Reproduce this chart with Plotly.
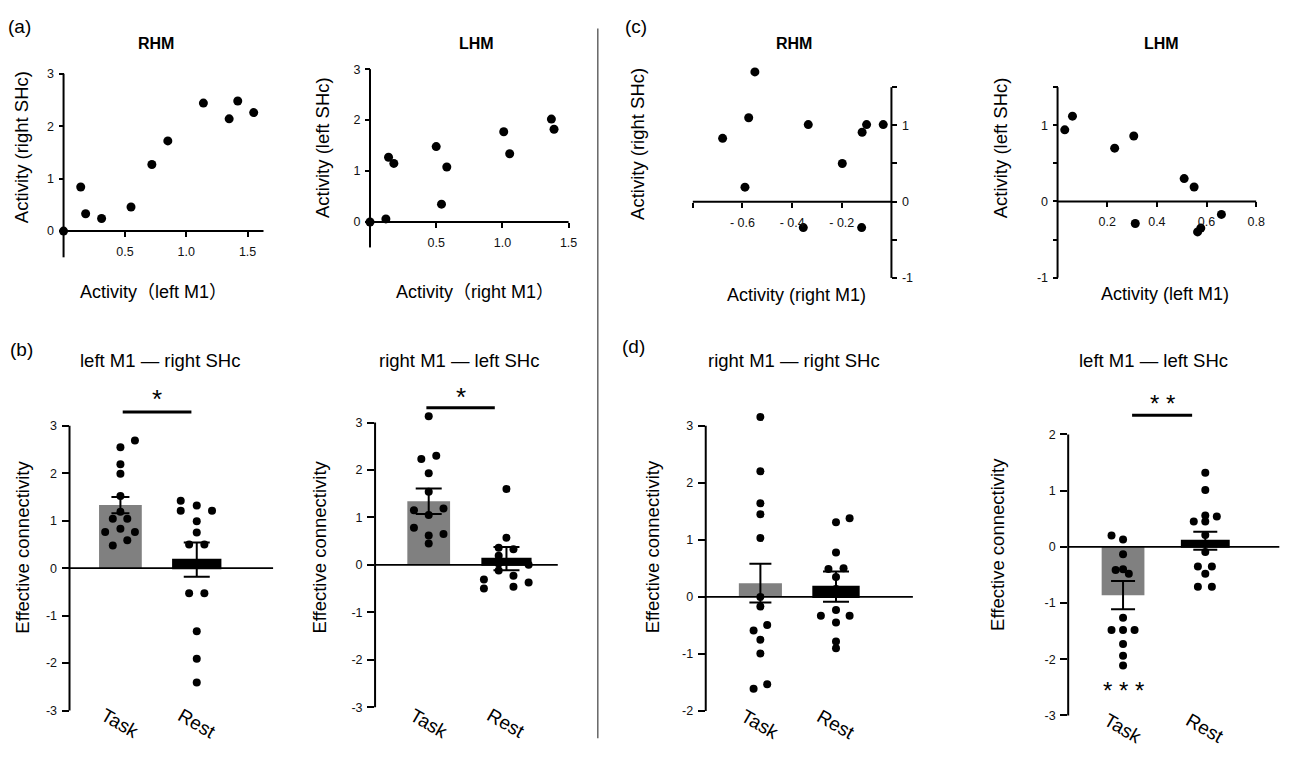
import plotly.graph_objects as go

W, H = 1289, 760
FONT = "Liberation Sans, Arial, Noto Sans CJK JP, sans-serif"

# ---------------- data ----------------
a_rhm_x = [0.0, 0.14, 0.18, 0.31, 0.55, 0.72, 0.85, 1.14, 1.35, 1.42, 1.55]
a_rhm_y = [0.0, 0.84, 0.33, 0.24, 0.46, 1.27, 1.72, 2.44, 2.14, 2.48, 2.26]
a_lhm_x = [0.0, 0.12, 0.14, 0.18, 0.50, 0.54, 0.58, 1.01, 1.055, 1.37, 1.39]
a_lhm_y = [0.0, 0.06, 1.27, 1.15, 1.48, 0.35, 1.08, 1.77, 1.34, 2.02, 1.82]
c_rhm_x = [-0.68, -0.59, -0.575, -0.55, -0.355, -0.335, -0.198, -0.118, -0.12, -0.10, -0.033]
c_rhm_y = [0.83, 0.19, 1.10, 1.70, -0.34, 1.01, 0.50, 0.91, -0.34, 1.01, 1.01]
c_lhm_x = [0.029, 0.06, 0.23, 0.307, 0.313, 0.51, 0.55, 0.564, 0.577, 0.66]
c_lhm_y = [0.94, 1.12, 0.70, 0.86, -0.29, 0.30, 0.19, -0.40, -0.35, -0.17]

conditions = ["Task", "Rest"]

b1_mean = [1.33, 0.18]
b1_sem = [0.17, 0.36]
b1_task_x = [0.19, 0.0, 0.0, 0.0, 0.0, 0.0, -0.10, 0.09, -0.20, 0.0, 0.19, 0.09, -0.10]
b1_task_y = [2.69, 2.55, 2.19, 1.99, 1.52, 1.19, 1.04, 1.04, 0.76, 0.83, 0.76, 0.59, 0.48]
b1_rest_x = [0.79, 0.79, 1.0, 1.2, 1.0, 1.0, 0.9, 1.1, 0.9, 1.1, 1.0, 1.0, 1.0]
b1_rest_y = [1.42, 1.21, 1.32, 1.21, 0.99, 0.75, 0.50, 0.50, -0.53, -0.53, -1.33, -1.91, -2.41]

b2_mean = [1.34, 0.13]
b2_sem = [0.27, 0.245]
b2_task_x = [0.0, -0.095, 0.097, 0.0, 0.0, -0.19, 0.19, 0.0, -0.19, 0.19, 0.0, 0.0]
b2_task_y = [3.13, 2.23, 2.30, 1.93, 1.54, 1.15, 1.19, 1.05, 0.78, 0.65, 0.62, 0.45]
b2_rest_x = [1.0, 1.0, 0.90, 1.09, 0.90, 0.90, 0.71, 0.71, 0.90, 1.09, 1.09, 1.285, 1.285]
b2_rest_y = [1.60, 0.57, 0.36, 0.33, 0.19, 0.03, -0.31, -0.50, -0.12, -0.23, -0.46, -0.37, 0.0]

d1_mean = [0.24, 0.18]
d1_sem = [0.34, 0.265]
d1_task_x = [0.0, 0.0, 0.0, 0.0, 0.0, 0.0, 0.0, 0.09, -0.09, 0.0, 0.0, 0.09, -0.09]
d1_task_y = [3.15, 2.20, 1.64, 1.45, 1.03, 0.0, -0.17, -0.49, -0.59, -0.75, -0.99, -1.53, -1.61]
d1_rest_x = [1.0, 1.18, 1.0, 0.9, 1.1, 1.0, 1.0, 0.8, 1.18, 1.0, 1.0, 1.0, 1.0]
d1_rest_y = [1.31, 1.38, 0.78, 0.49, 0.50, 0.35, 0.14, -0.33, -0.33, -0.23, -0.45, -0.78, -0.90]

d2_mean = [-0.86, 0.11]
d2_sem = [0.25, 0.16]
d2_task_x = [-0.14, 0.0, 0.0, -0.09, 0.0, 0.07, 0.0, -0.14, 0.0, 0.14, 0.0, 0.0, 0.0]
d2_task_y = [0.20, 0.13, -0.13, -0.41, -0.40, -0.48, -1.26, -1.48, -1.48, -1.48, -1.73, -1.94, -2.11]
d2_rest_x = [1.0, 1.0, 0.86, 1.0, 1.14, 1.0, 1.0, 1.0, 0.91, 1.08, 1.0, 0.91, 1.08]
d2_rest_y = [1.32, 1.01, 0.45, 0.56, 0.54, 0.45, 0.21, -0.09, -0.35, -0.35, -0.48, -0.71, -0.71]

# ---------------- helpers ----------------
fig = go.Figure()
layout = {}
annotations = []
shapes = []
geom = {}


def lin(v, dom, rng):
    return dom[0] + (v - rng[0]) / (rng[1] - rng[0]) * (dom[1] - dom[0])


def xgeom(p_lo, p_hi, lo, hi, rng):
    """x domain (paper) so that value lo sits at pixel p_lo and hi at p_hi."""
    ppu = (p_hi - p_lo) / (hi - lo)
    left = p_lo - (lo - rng[0]) * ppu
    right = p_hi + (rng[1] - hi) * ppu
    return [left / W, right / W]


def ygeom(p_lo, p_hi, lo, hi, rng):
    """y domain (paper); p_lo is the pixel row of value lo, p_hi of value hi."""
    ppu = (p_lo - p_hi) / (hi - lo)
    bot = p_lo + (lo - rng[0]) * ppu
    top = p_hi - (rng[1] - hi) * ppu
    return [1 - bot / H, 1 - top / H]


def names(i):
    return ("x" if i == 1 else f"x{i}"), ("y" if i == 1 else f"y{i}")


def ann(text, px, py, size=18, angle=0, bold=False):
    annotations.append(dict(
        text=f"<b>{text}</b>" if bold else text,
        x=px / W, y=1 - py / H, xref="paper", yref="paper",
        showarrow=False, textangle=angle,
        font=dict(size=size, family=FONT, color="black"),
        xanchor="center", yanchor="middle"))


def data_ann(i, text, x, y, size, angle=0):
    xd, yd, xr, yr = geom[i]
    annotations.append(dict(
        text=text, x=lin(x, xd, xr), y=lin(y, yd, yr), xref="paper", yref="paper",
        showarrow=False, textangle=angle, xanchor="center", yanchor="middle",
        font=dict(size=size, family=FONT, color="black")))


def seg(i, x0, y0, x1, y1, width=2, color="black"):
    xd, yd, xr, yr = geom[i]
    shapes.append(dict(type="line", xref="paper", yref="paper",
                       x0=lin(x0, xd, xr), x1=lin(x1, xd, xr),
                       y0=lin(y0, yd, yr), y1=lin(y1, yd, yr),
                       line=dict(color=color, width=width)))


TICKFONT = dict(size=12.5, family=FONT, color="#111")
TICKS = dict(ticks="outside", ticklen=5, tickwidth=1.5, tickcolor="black",
             tickfont=TICKFONT, showgrid=False, showline=False, zeroline=False,
             fixedrange=True)


def scatter_panel(i, xs, ys, xd, yd, xr, yr, xline, yline, xtv, xtt, ytv, ytt, yside="left"):
    xn, yn = names(i)
    geom[i] = (xd, yd, xr, yr)
    layout["xaxis" if i == 1 else f"xaxis{i}"] = dict(
        domain=xd, range=xr, anchor="free", position=lin(0, yd, yr),
        tickvals=xtv, ticktext=xtt, ticklabelstandoff=4, **TICKS)
    layout["yaxis" if i == 1 else f"yaxis{i}"] = dict(
        domain=yd, range=yr, anchor="free", side=yside, position=lin(0, xd, xr),
        tickvals=ytv, ticktext=ytt, ticklabelstandoff=2, **TICKS)
    # axis lines crossing at the origin
    seg(i, xline[0], 0, xline[1], 0)
    seg(i, 0, yline[0], 0, yline[1])
    fig.add_trace(go.Scatter(x=xs, y=ys, mode="markers", xaxis=xn, yaxis=yn,
                             marker=dict(size=9, color="black"), cliponaxis=False,
                             hoverinfo="skip"))


def bar_panel(i, xd, yd, xr, yr, ylim, mean, sem, tx, ty, rx, ry, widths, caps, label_py):
    xn, yn = names(i)
    geom[i] = (xd, yd, xr, yr)
    ytv = list(range(ylim[0], ylim[1] + 1))
    layout["xaxis" if i == 1 else f"xaxis{i}"] = dict(
        domain=xd, range=xr, anchor=yn, showline=False, showgrid=False,
        zeroline=False, showticklabels=False, ticks="", fixedrange=True)
    layout["yaxis" if i == 1 else f"yaxis{i}"] = dict(
        domain=yd, range=yr, anchor=xn, tickvals=ytv, ticktext=[str(v) for v in ytv],
        ticklabelstandoff=2, **{**TICKS, "ticklen": 7})
    seg(i, xr[0], ylim[0], xr[0], ylim[1], width=2)      # y axis line
    seg(i, xr[0], 0, xr[1], 0, width=1.6)                 # zero line
    pos = list(range(len(conditions)))
    colors = ["#808080", "black"]
    for k in pos:
        fig.add_trace(go.Bar(
            x=[pos[k]], y=[mean[k]], width=[widths[k]], xaxis=xn, yaxis=yn,
            marker=dict(color=colors[k], line=dict(width=0 if k == 0 else 2, color="black")),
            error_y=dict(type="data", array=[sem[k]], color="black", thickness=2,
                         width=caps[k]),
            hoverinfo="skip"))
    for xs, ys in ((tx, ty), (rx, ry)):
        fig.add_trace(go.Scatter(x=xs, y=ys, mode="markers", xaxis=xn, yaxis=yn,
                                 marker=dict(size=8, color="black"), cliponaxis=False,
                                 hoverinfo="skip"))
    for k in pos:
        annotations.append(dict(text=conditions[k], xref=xn, yref="paper",
                                x=pos[k], y=1 - label_py / H, xanchor="center",
                                yanchor="middle", showarrow=False, textangle=30,
                                font=dict(size=19, family=FONT, color="black")))


def sig(i, x0, x1, yline, ytext, text, size=26):
    seg(i, x0, yline, x1, yline, width=3)
    data_ann(i, text, (x0 + x1) / 2, ytext, size)


# ---------------- panels (a) and (c) ----------------
r = ([0, 1.63], [-0.5, 3])
scatter_panel(1, a_rhm_x, a_rhm_y, xgeom(64, 249.3, 0, 1.5, r[0]), ygeom(228.3, 68, 0, 3, r[1]),
              r[0], r[1], (0, 1.63), (-0.5, 3),
              [0.5, 1.0, 1.5], ["0.5", "1.0", "1.5"], [0, 1, 2, 3], ["0", "1", "2", "3"])
r = ([0, 1.5], [-0.5, 3])
scatter_panel(2, a_lhm_x, a_lhm_y, xgeom(372.6, 572.6, 0, 1.5, r[0]), ygeom(219, 63.3, 0, 3, r[1]),
              r[0], r[1], (0, 1.5), (-0.5, 3),
              [0.5, 1.0, 1.5], ["0.5", "1.0", "1.5"], [0, 1, 2, 3], ["0", "1", "2", "3"])
r = ([-0.8, 0], [-1, 1.8])
scatter_panel(3, c_rhm_x, c_rhm_y, xgeom(697.7, 897.7, -0.8, 0, r[0]), ygeom(276, 81.7, -1, 1.5, r[1]),
              r[0], r[1], (-0.8, 0), (-1, 1.5),
              [-0.8, -0.6, -0.4, -0.2], ["", "- 0.6", "- 0.4", "- 0.2"],
              [-1, -0.5, 0, 0.5, 1, 1.5], ["-1", "", "0", "", "1", ""], yside="right")
r = ([0, 0.8], [-1, 1.5])
scatter_panel(4, c_lhm_x, c_lhm_y, xgeom(1065, 1265, 0, 0.8, r[0]), ygeom(275.7, 81.7, -1, 1.5, r[1]),
              r[0], r[1], (0, 0.8), (-1, 1.5),
              [0.2, 0.4, 0.6, 0.8], ["0.2", "0.4", "0.6", "0.8"],
              [-1, -0.5, 0, 0.5, 1, 1.5], ["-1", "", "0", "", "1", ""])

# ---------------- panels (b) and (d) ----------------
r = ([-0.667, 2.0], [-3, 3.4])
bar_panel(5, xgeom(70, 275, r[0][0], r[0][1], r[0]), ygeom(716.7, 426.7, -3, 3, r[1]),
          r[0], r[1], (-3, 3), b1_mean, b1_sem, b1_task_x, b1_task_y, b1_rest_x, b1_rest_y,
          (0.56, 0.62), (9, 13), 730)
r = ([-0.69, 1.66], [-3, 3.4])
bar_panel(6, xgeom(377.7, 561.7, r[0][0], r[0][1], r[0]), ygeom(713.3, 423.3, -3, 3, r[1]),
          r[0], r[1], (-3, 3), b2_mean, b2_sem, b2_task_x, b2_task_y, b2_rest_x, b2_rest_y,
          (0.55, 0.62), (13, 13), 730)
r = ([-0.723, 2.017], [-2, 3.4])
bar_panel(7, xgeom(710.7, 919.3, r[0][0], r[0][1], r[0]), ygeom(717.3, 426.5, -2, 3, r[1]),
          r[0], r[1], (-2, 3), d1_mean, d1_sem, d1_task_x, d1_task_y, d1_rest_x, d1_rest_y,
          (0.57, 0.60), (11, 13), 731)
r = ([-0.667, 1.9], [-3, 2.4])
bar_panel(8, xgeom(1075.7, 1288.3, r[0][0], r[0][1], r[0]), ygeom(721.7, 435.5, -3, 2, r[1]),
          r[0], r[1], (-3, 2), d2_mean, d2_sem, d2_task_x, d2_task_y, d2_rest_x, d2_rest_y,
          (0.52, 0.57), (12, 12), 735)

sig(5, 0.03, 0.93, 3.29, 3.56, "*")
sig(6, -0.03, 0.85, 3.31, 3.54, "*")
sig(8, 0.11, 0.84, 2.34, 2.56, "* *", size=24)
data_ann(8, "* * *", 0, -2.55, 24)

# ---------------- text ----------------
ann("(a)", 20, 20, size=19)
ann("(c)", 640, 20, size=19)
ann("(b)", 22, 349, size=19)
ann("(d)", 638, 346, size=19)

ann("RHM", 157, 37, size=16, bold=True)
ann("LHM", 480, 37, size=16, bold=True)
ann("RHM", 800, 37, size=16, bold=True)
ann("LHM", 1170, 37, size=16, bold=True)

ann("Activity (right SHc)", 22, 143, size=18.5, angle=-90)
ann("Activity（left M1）", 155, 290, size=18)
ann("Activity (left SHc)", 325, 143, size=18.5, angle=-90)
ann("Activity（right M1）", 478, 290, size=18)
ann("Activity (right SHc)", 642, 140, size=18.5, angle=-90)
ann("Activity (right M1)", 802, 293, size=18)
ann("Activity (left SHc)", 1007, 143, size=18.5, angle=-90)
ann("Activity (left M1)", 1173, 292, size=18)

ann("left M1 — right SHc", 161, 360, size=18.5)
ann("right M1 — left SHc", 462, 360, size=18.5)
ann("right M1 — right SHc", 800, 360, size=18.5)
ann("left M1 — left SHc", 1162, 360, size=18.5)

ann("Effective connectivity", 23, 550, size=18.5, angle=-90)
ann("Effective connectivity", 322, 550, size=18.5, angle=-90)
ann("Effective connectivity", 657, 550, size=18.5, angle=-90)
ann("Effective connectivity", 1005, 547, size=18.5, angle=-90)

# panel separator
shapes.append(dict(type="line", xref="paper", yref="paper", x0=602 / W, x1=602 / W,
                   y0=1 - 745 / H, y1=1 - 22 / H, line=dict(color="#666666", width=1.5)))

fig.update_layout(
    width=W, height=H, autosize=False, margin=dict(l=0, r=0, t=0, b=0, pad=0),
    paper_bgcolor="white", plot_bgcolor="white", showlegend=False,
    barmode="overlay", font=dict(family=FONT, color="black"),
    annotations=annotations, shapes=shapes, **layout)

fig.write_html(
    "out.html",
    config={"responsive": False, "displayModeBar": False},
    post_script="document.body.style.margin='0px';document.body.style.overflow='hidden';",
)
